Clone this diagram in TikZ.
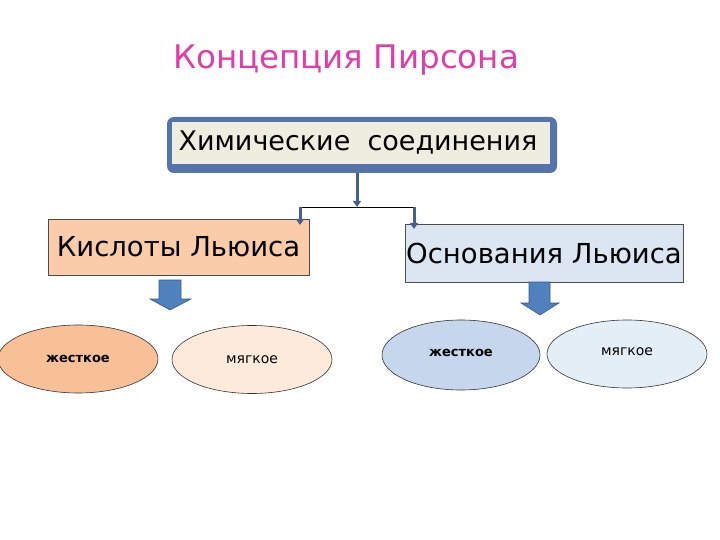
\documentclass[tikz,border=0pt]{standalone}
\usepackage{fontspec}
\setmainfont{DejaVu Sans}
\usetikzlibrary{arrows.meta,shapes.geometric}
\definecolor{titlepink}{RGB}{226,60,168}
\definecolor{frameblue}{RGB}{84,116,170}
\definecolor{innerbeige}{RGB}{238,237,224}
\definecolor{peach}{RGB}{250,204,170}
\definecolor{peachdark}{RGB}{248,192,150}
\definecolor{peachlight}{RGB}{253,234,218}
\definecolor{paleblue}{RGB}{220,230,242}
\definecolor{ellblue}{RGB}{198,214,236}
\definecolor{ellblue2}{RGB}{228,238,247}
\definecolor{arrowblue}{RGB}{79,129,189}
\definecolor{arrowedge}{RGB}{56,90,140}
\definecolor{lineblue}{RGB}{70,95,140}
\tikzset{
  catbox/.style={draw=black!70, line width=0.8pt, minimum height=56pt, inner sep=0pt, font=\fontsize{27.5}{30}\selectfont},
  ell/.style={ellipse, draw=black!80, line width=0.6pt, minimum width=160pt, minimum height=68pt, inner sep=0pt},
  hardtxt/.style={font=\bfseries\fontsize{13}{15}\selectfont},
  softtxt/.style={font=\fontsize{14}{16}\selectfont},
  conn/.style={draw=lineblue, line width=3pt, -{Triangle[length=6pt,width=8pt]}},
  blockarrow/.style={draw=arrowedge, fill=arrowblue, line width=0.6pt, line join=miter}
}
\begin{document}
\begin{tikzpicture}[x=1pt,y=-1pt]
\useasboundingbox (0,0) rectangle (720,540);
% title
\node[text=titlepink, font=\fontsize{32.5}{36}\selectfont] (title) at (346,60) {Концепция Пирсона};
% top box
\fill[frameblue, rounded corners=7pt] (167,117) rectangle (557,173);
\fill[innerbeige] (172,122) rectangle (550,164);
\node[font=\fontsize{27}{30}\selectfont, inner sep=0pt, minimum width=378pt, minimum height=42pt] (top) at (358,143) {Химические\ \ соединения};
% category boxes
\node[catbox, fill=peach, minimum width=261pt] (acid) at (178.5,247) {Кислоты Льюиса};
\node[catbox, fill=paleblue, minimum width=278pt, minimum height=58pt] (base) at (544,253) {Основания Льюиса};
% connectors
\coordinate (s) at (357,173);
\coordinate (j) at (357,207);
\coordinate (jl) at (300,207);
\coordinate (jr) at (414,207);
\draw[black, line width=0.9pt] (jl) -- (jr);
\draw[conn] (s) -- (j);
\draw[conn] (jl) -- (300,225);
\draw[conn] (jr) -- (414,229);
% block arrows
\draw[blockarrow] (159,280) -- (181,280) -- (181,299) -- (191,299) -- (170,310) -- (150,299) -- (159,299) -- cycle;
\draw[blockarrow] (529,282) -- (550,282) -- (550,303) -- (559,303) -- (540,315) -- (521,303) -- (529,303) -- cycle;
% ellipses
\node[ell, fill=peachdark, hardtxt] (a1) at (78,359) {жесткое};
\node[ell, fill=peachlight, softtxt] (a2) at (252,359.5) {мягкое};
\node[ell, fill=ellblue, hardtxt, minimum width=158pt, minimum height=70pt] (b1) at (461,355) {\raisebox{4pt}{жесткое}};
\node[ell, fill=ellblue2, softtxt] (b2) at (627,354) {\raisebox{4pt}{мягкое}};
\end{tikzpicture}
\end{document}
